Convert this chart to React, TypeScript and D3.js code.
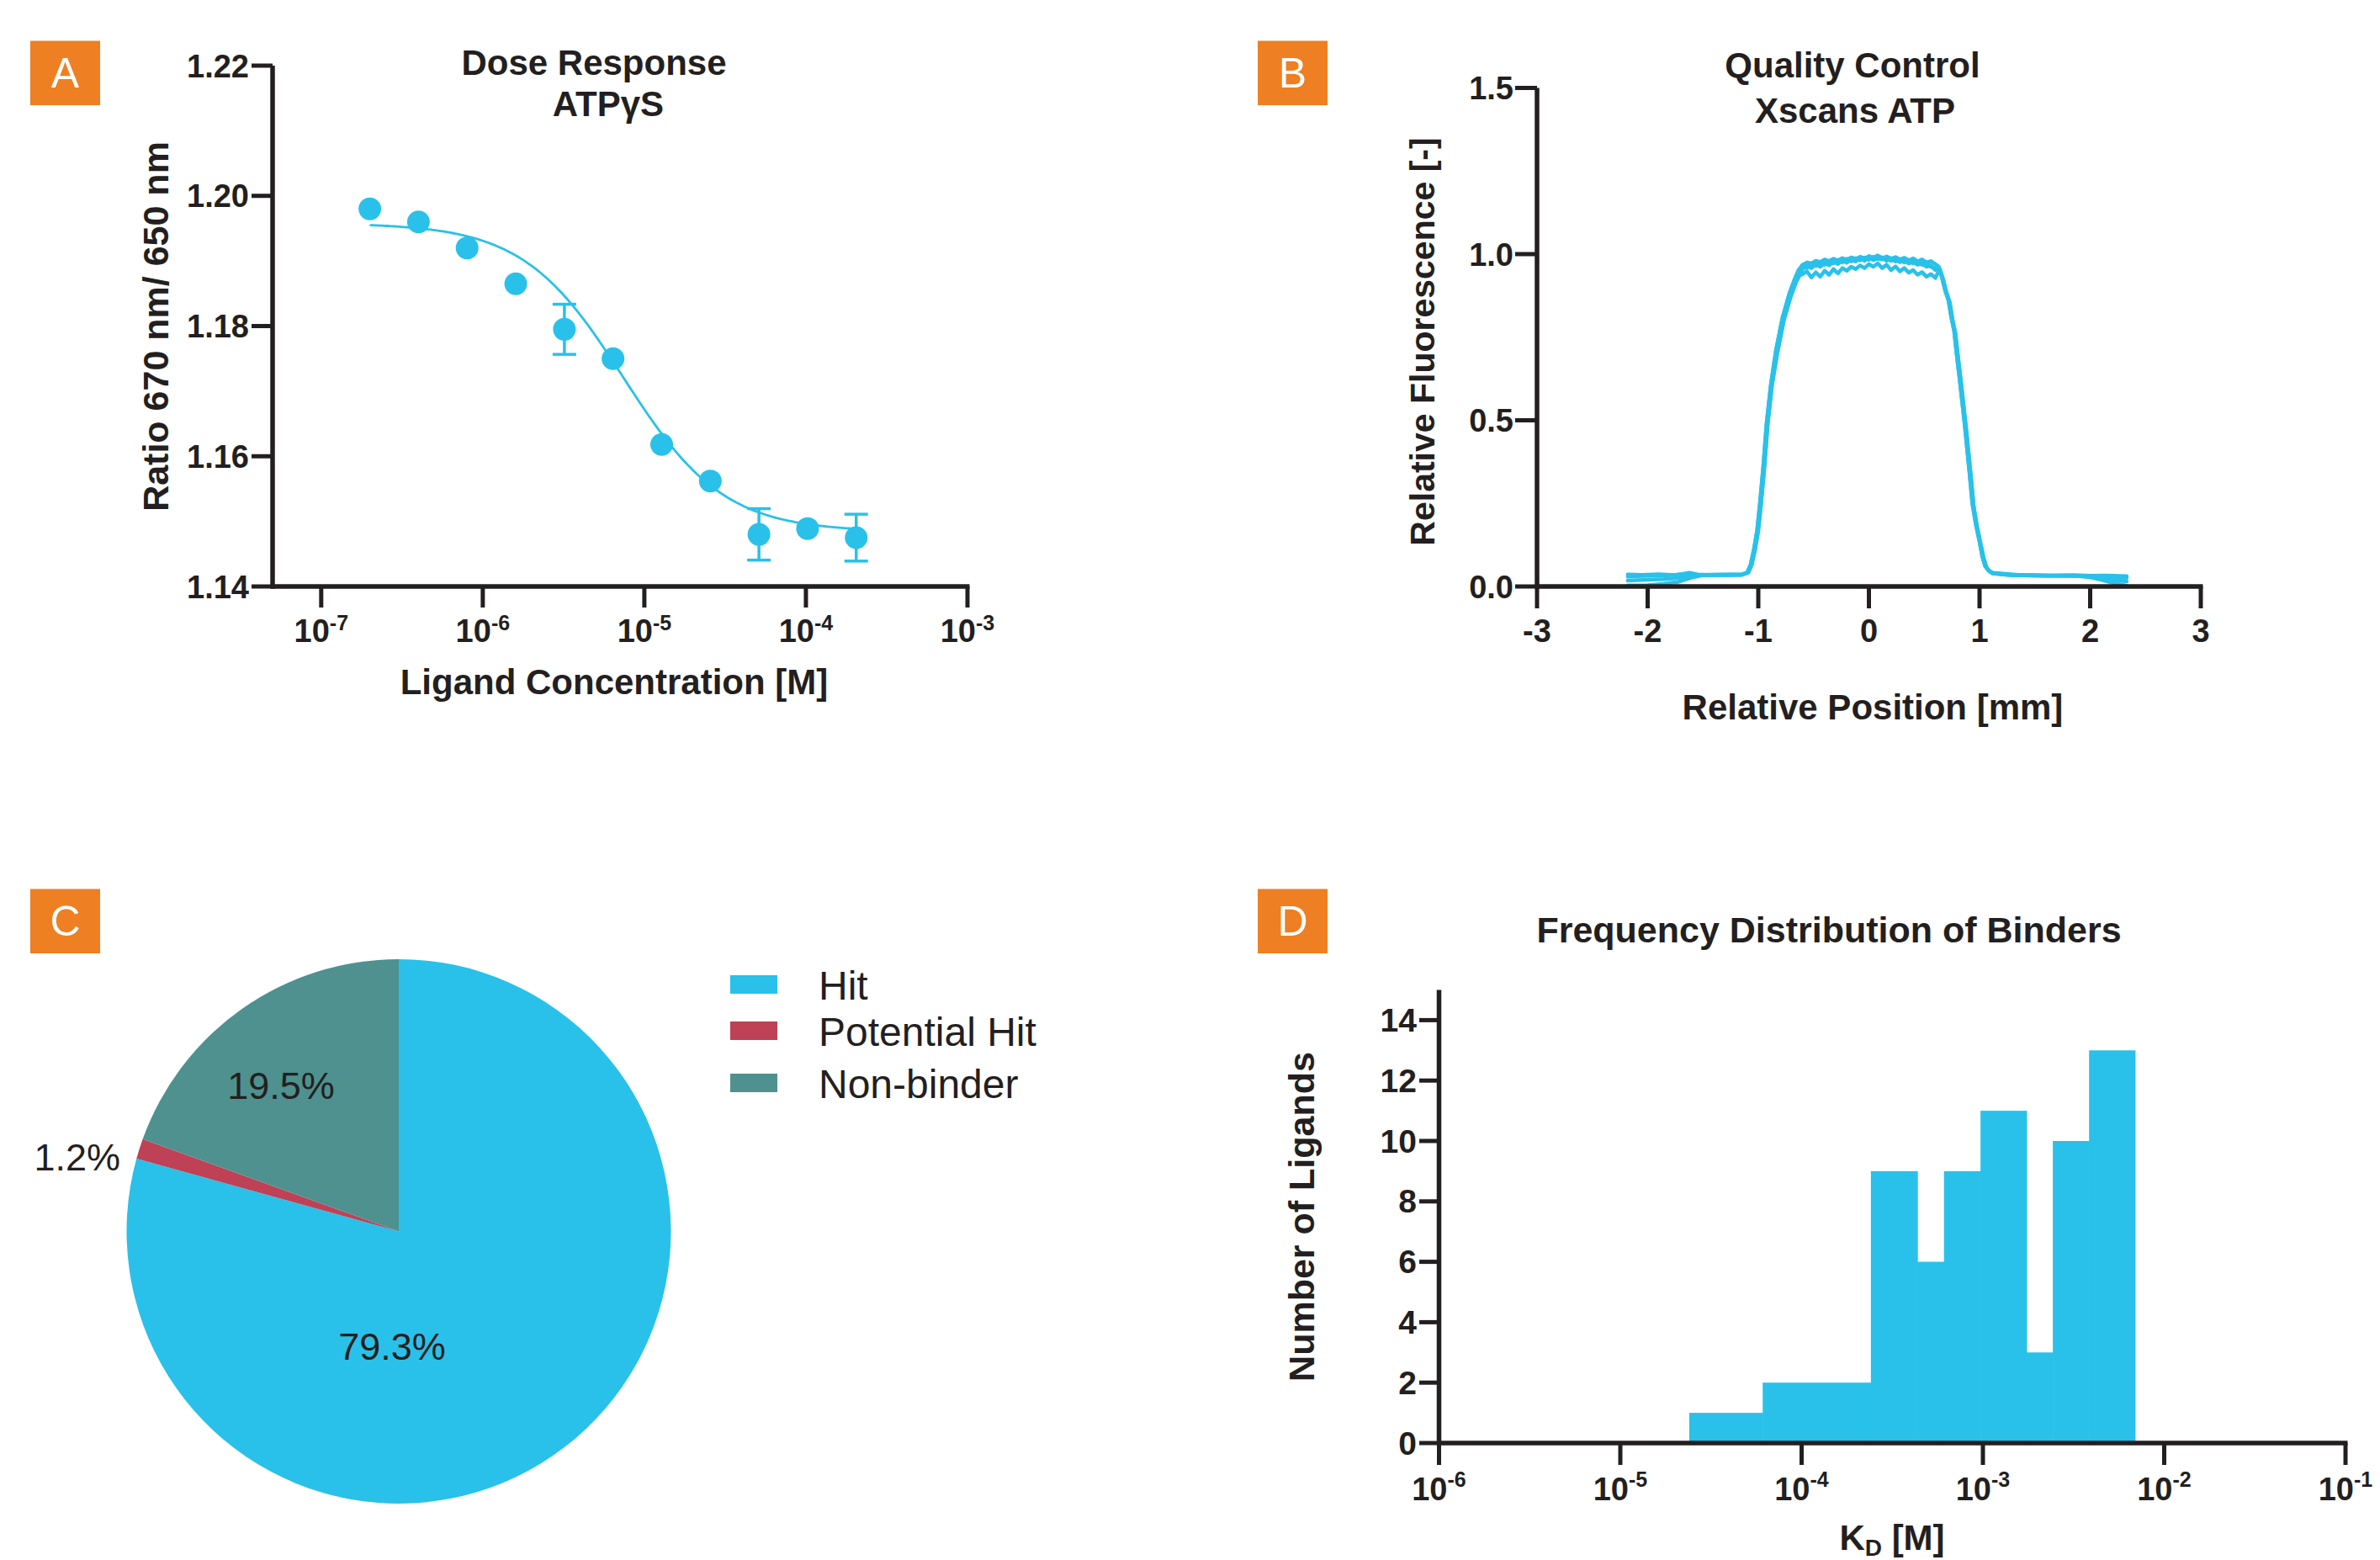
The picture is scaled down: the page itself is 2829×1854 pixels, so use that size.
import React from "react";
import * as d3 from "d3";

const FONT = "'Liberation Sans', Arial, Helvetica, sans-serif";
const CYAN = "#29C1E9";
const INK = "#231F20";
const ORANGE = "#EE7F22";

// ---------- Panel A: dose response ----------
const doseConc = [2e-7, 4e-7, 8e-7, 1.6e-6, 3.2e-6, 6.4e-6, 1.28e-5, 2.56e-5, 5.12e-5, 1.024e-4, 2.048e-4];
const doseRatio = [1.198, 1.196, 1.192, 1.1865, 1.1795, 1.175, 1.1618, 1.1562, 1.148, 1.1489, 1.1475];
const doseSem = [0, 0, 0, 0, 0.00385, 0, 0, 0, 0.00395, 0, 0.0036];
const fitTop = 1.1958;
const fitBottom = 1.1484;
const fitLogEC50 = -5.13;
const fitHill = 1.4;
const doseYTicks = [1.14, 1.16, 1.18, 1.2, 1.22];
const doseXTickExps = [-7, -6, -5, -4, -3];

// ---------- Panel B: quality control x-scans ----------
const qcLeftBase1 = [[-2.18, 0.036], [-2.05, 0.035], [-1.9, 0.037], [-1.75, 0.034], [-1.62, 0.041], [-1.55, 0.036], [-1.4, 0.034], [-1.25, 0.036], [-1.15, 0.036]];
const qcLeftBase2 = [[-2.18, 0.003], [-2.0, 0.004], [-1.85, 0.008], [-1.72, 0.014], [-1.62, 0.025], [-1.52, 0.033], [-1.4, 0.035], [-1.25, 0.034], [-1.15, 0.035]];
const qcLeftBase3 = [[-2.18, 0.018], [-2.0, 0.02], [-1.85, 0.022], [-1.7, 0.026], [-1.58, 0.032], [-1.45, 0.035], [-1.3, 0.035], [-1.15, 0.036]];
const qcLeftBase4 = [[-2.18, 0.03], [-2.0, 0.032], [-1.85, 0.033], [-1.7, 0.036], [-1.55, 0.035], [-1.35, 0.036], [-1.15, 0.035]];
const qcRiseA = [[-1.1, 0.042], [-1.07, 0.065], [-1.04, 0.11], [-1.01, 0.17], [-0.985, 0.25], [-0.955, 0.36], [-0.925, 0.49], [-0.885, 0.61], [-0.84, 0.71], [-0.78, 0.81], [-0.72, 0.88], [-0.67, 0.925], [-0.635, 0.952]];
const qcRiseB = [[-1.09, 0.042], [-1.06, 0.065], [-1.03, 0.11], [-1.0, 0.17], [-0.975, 0.25], [-0.945, 0.36], [-0.915, 0.49], [-0.875, 0.61], [-0.83, 0.7], [-0.77, 0.8], [-0.71, 0.87], [-0.66, 0.915], [-0.63, 0.935]];
const qcPlateau1 = [[-0.6, 0.968], [-0.56, 0.975], [-0.52, 0.972], [-0.48, 0.98], [-0.44, 0.976], [-0.4, 0.984], [-0.36, 0.979], [-0.32, 0.986], [-0.28, 0.981], [-0.24, 0.988], [-0.2, 0.983], [-0.16, 0.99], [-0.12, 0.985], [-0.08, 0.992], [-0.04, 0.987], [0, 0.994], [0.04, 0.989], [0.08, 0.996], [0.12, 0.988], [0.16, 0.993], [0.2, 0.986], [0.24, 0.991], [0.28, 0.984], [0.32, 0.989], [0.36, 0.981], [0.4, 0.987], [0.44, 0.978], [0.48, 0.984], [0.52, 0.975], [0.56, 0.979], [0.6, 0.97]];
const qcPlateau2 = [[-0.6, 0.94], [-0.56, 0.948], [-0.52, 0.93], [-0.48, 0.945], [-0.44, 0.932], [-0.4, 0.95], [-0.36, 0.938], [-0.32, 0.955], [-0.28, 0.942], [-0.24, 0.958], [-0.2, 0.95], [-0.16, 0.962], [-0.12, 0.955], [-0.08, 0.966], [-0.04, 0.958], [0, 0.97], [0.04, 0.962], [0.08, 0.972], [0.12, 0.958], [0.16, 0.968], [0.2, 0.952], [0.24, 0.963], [0.28, 0.948], [0.32, 0.958], [0.36, 0.944], [0.4, 0.952], [0.44, 0.938], [0.48, 0.946], [0.52, 0.932], [0.56, 0.94], [0.6, 0.928]];
const qcPlateau3 = [[-0.6, 0.962], [-0.56, 0.958], [-0.52, 0.97], [-0.48, 0.964], [-0.44, 0.974], [-0.4, 0.968], [-0.36, 0.978], [-0.32, 0.972], [-0.28, 0.982], [-0.24, 0.975], [-0.2, 0.986], [-0.16, 0.978], [-0.12, 0.988], [-0.08, 0.981], [-0.04, 0.99], [0, 0.983], [0.04, 0.992], [0.08, 0.985], [0.12, 0.99], [0.16, 0.98], [0.2, 0.988], [0.24, 0.978], [0.28, 0.985], [0.32, 0.975], [0.36, 0.982], [0.4, 0.972], [0.44, 0.978], [0.48, 0.968], [0.52, 0.973], [0.56, 0.962], [0.6, 0.958]];
const qcPlateau4 = [[-0.6, 0.955], [-0.56, 0.965], [-0.52, 0.958], [-0.48, 0.97], [-0.44, 0.962], [-0.4, 0.974], [-0.36, 0.966], [-0.32, 0.978], [-0.28, 0.97], [-0.24, 0.982], [-0.2, 0.974], [-0.16, 0.985], [-0.12, 0.978], [-0.08, 0.988], [-0.04, 0.98], [0, 0.99], [0.04, 0.982], [0.08, 0.988], [0.12, 0.984], [0.16, 0.986], [0.2, 0.98], [0.24, 0.983], [0.28, 0.976], [0.32, 0.98], [0.36, 0.972], [0.4, 0.977], [0.44, 0.968], [0.48, 0.972], [0.52, 0.962], [0.56, 0.966], [0.6, 0.952]];
const qcFallA = [[0.63, 0.962], [0.66, 0.93], [0.69, 0.89], [0.72, 0.86], [0.745, 0.81], [0.77, 0.77], [0.8, 0.68], [0.82, 0.625], [0.865, 0.49], [0.91, 0.34], [0.935, 0.25], [0.965, 0.19], [1.0, 0.135], [1.025, 0.09], [1.05, 0.062], [1.08, 0.048]];
const qcFallB = [[0.64, 0.955], [0.67, 0.925], [0.7, 0.885], [0.73, 0.855], [0.757, 0.8], [0.782, 0.76], [0.812, 0.67], [0.832, 0.615], [0.877, 0.48], [0.922, 0.33], [0.947, 0.24], [0.977, 0.18], [1.012, 0.125], [1.037, 0.085], [1.062, 0.058], [1.09, 0.046]];
const qcRightBase1 = [[1.12, 0.04], [1.25, 0.035], [1.45, 0.034], [1.65, 0.033], [1.85, 0.034], [2.0, 0.032], [2.15, 0.033], [2.33, 0.031]];
const qcRightBase2 = [[1.12, 0.039], [1.3, 0.034], [1.5, 0.033], [1.7, 0.032], [1.9, 0.031], [2.0, 0.028], [2.1, 0.02], [2.2, 0.011], [2.33, 0.002]];
const qcRightBase3 = [[1.12, 0.04], [1.3, 0.034], [1.55, 0.032], [1.8, 0.033], [2.0, 0.03], [2.15, 0.022], [2.33, 0.015]];
const qcRightBase4 = [[1.12, 0.041], [1.35, 0.035], [1.6, 0.033], [1.85, 0.032], [2.05, 0.031], [2.2, 0.03], [2.33, 0.026]];
const qcXTicks = [-3, -2, -1, 0, 1, 2, 3];
const qcYTicks = [0, 0.5, 1.0, 1.5];

// ---------- Panel C: pie ----------
const pieCategories = ["Hit", "Potential Hit", "Non-binder"];
const piePercent = [79.3, 1.2, 19.5];
const pieColors = ["#29C1E9", "#BF4155", "#4E918F"];

// ---------- Panel D: histogram ----------
const kdBinEdges = [2.4e-5, 6.1e-5, 2.41e-4, 4.35e-4, 6.1e-4, 9.7e-4, 1.74e-3, 2.43e-3, 3.85e-3, 6.9e-3];
const kdCounts = [1, 2, 9, 6, 9, 11, 3, 10, 13];
const kdXTickExps = [-6, -5, -4, -3, -2, -1];
const kdYTicks = [0, 2, 4, 6, 8, 10, 12, 14];

const AXW = 5.5;
const TKW = 5;

function LogLabel({ x, y, exp, size, supSize, supDy }: any) {
  return (
    <text x={x} y={y} textAnchor="middle" fontFamily={FONT} fontWeight="bold" fontSize={size} fill={INK}>
      <tspan>10</tspan>
      <tspan dy={supDy} fontSize={supSize}>{`-${Math.abs(exp)}`}</tspan>
    </text>
  );
}

function Badge({ x, y, letter, baseline }: any) {
  return (
    <g>
      <rect x={x} y={y} width={83} height={76.5} fill={ORANGE} />
      <text x={x + 41.5} y={baseline} textAnchor="middle" fontFamily={FONT} fontSize={50} fill="#fff">{letter}</text>
    </g>
  );
}

function PanelA() {
  const x = d3.scaleLog().domain([5e-8, 1e-3]).range([324, 1150]);
  const y = d3.scaleLinear().domain([1.14, 1.22]).range([697, 78]);
  const lo = Math.log10(doseConc[0]);
  const hi = Math.log10(doseConc[doseConc.length - 1]);
  const fitPts = d3.range(0, 201).map((i) => {
    const lx = lo + ((hi - lo) * i) / 200;
    const v = fitBottom + (fitTop - fitBottom) / (1 + Math.pow(10, (lx - fitLogEC50) * fitHill));
    return [Math.pow(10, lx), v] as [number, number];
  });
  const line = d3.line<[number, number]>().x((d) => x(d[0])).y((d) => y(d[1]));
  return (
    <g>
      <Badge x={36} y={48.5} letter="A" baseline={104} />
      <text x={706} y={89} textAnchor="middle" fontFamily={FONT} fontWeight="bold" fontSize={42} fill={INK}>Dose Response</text>
      <text x={723} y={138} textAnchor="middle" fontFamily={FONT} fontWeight="bold" fontSize={42} fill={INK}>ATPγS</text>
      <text transform="translate(200,388) rotate(-90)" textAnchor="middle" fontFamily={FONT} fontWeight="bold" fontSize={43} fill={INK}>Ratio 670 nm/ 650 nm</text>
      <text x={730} y={825} textAnchor="middle" fontFamily={FONT} fontWeight="bold" fontSize={42} fill={INK}>Ligand Concentration [M]</text>
      <path d={line(fitPts) || ""} fill="none" stroke={CYAN} strokeWidth={2.8} />
      {doseConc.map((c, i) =>
        doseSem[i] > 0 ? (
          <g key={"e" + i} stroke={CYAN} strokeWidth={3.5}>
            <line x1={x(c)} x2={x(c)} y1={y(doseRatio[i] + doseSem[i])} y2={y(doseRatio[i] - doseSem[i])} />
            <line x1={x(c) - 14} x2={x(c) + 14} y1={y(doseRatio[i] + doseSem[i])} y2={y(doseRatio[i] + doseSem[i])} />
            <line x1={x(c) - 14} x2={x(c) + 14} y1={y(doseRatio[i] - doseSem[i])} y2={y(doseRatio[i] - doseSem[i])} />
          </g>
        ) : null
      )}
      {doseConc.map((c, i) => (
        <circle key={"d" + i} cx={x(c)} cy={y(doseRatio[i])} r={13.5} fill={CYAN} />
      ))}
      <line x1={324} x2={324} y1={y(1.22)} y2={y(1.14) + AXW / 2} stroke={INK} strokeWidth={AXW} />
      <line x1={324} x2={1150 + TKW / 2} y1={697} y2={697} stroke={INK} strokeWidth={AXW} />
      {doseYTicks.map((t) => (
        <g key={"yt" + t}>
          <line x1={299} x2={324} y1={y(t)} y2={y(t)} stroke={INK} strokeWidth={TKW} />
          <text x={296} y={y(t) + 13.5} textAnchor="end" fontFamily={FONT} fontWeight="bold" fontSize={38} fill={INK}>{t.toFixed(2)}</text>
        </g>
      ))}
      {doseXTickExps.map((e) => (
        <g key={"xt" + e}>
          <line x1={x(Math.pow(10, e))} x2={x(Math.pow(10, e))} y1={697} y2={722} stroke={INK} strokeWidth={TKW} />
          <LogLabel x={x(Math.pow(10, e))} y={763} exp={e} size={38} supSize={25} supDy={-14} />
        </g>
      ))}
    </g>
  );
}

function PanelB() {
  const x = d3.scaleLinear().domain([-3, 3]).range([1827, 2616]);
  const y = d3.scaleLinear().domain([0, 1.5]).range([697, 104.5]);
  const traces = [
    [...qcLeftBase1, ...qcRiseA, ...qcPlateau1, ...qcFallA, ...qcRightBase1],
    [...qcLeftBase2, ...qcRiseB, ...qcPlateau2, ...qcFallB, ...qcRightBase2],
    [...qcLeftBase3, ...qcRiseA, ...qcPlateau3, ...qcFallB, ...qcRightBase3],
    [...qcLeftBase4, ...qcRiseB, ...qcPlateau4, ...qcFallA, ...qcRightBase4],
  ];
  const line = d3.line<number[]>().x((d) => x(d[0])).y((d) => y(d[1]));
  return (
    <g>
      <Badge x={1495} y={48.5} letter="B" baseline={104} />
      <text x={2202} y={92} textAnchor="middle" fontFamily={FONT} fontWeight="bold" fontSize={42} fill={INK}>Quality Control</text>
      <text x={2205} y={146} textAnchor="middle" fontFamily={FONT} fontWeight="bold" fontSize={42} fill={INK}>Xscans ATP</text>
      <text transform="translate(1705,406) rotate(-90)" textAnchor="middle" fontFamily={FONT} fontWeight="bold" fontSize={41} fill={INK}>Relative Fluorescence [-]</text>
      <text x={2226} y={855} textAnchor="middle" fontFamily={FONT} fontWeight="bold" fontSize={42} fill={INK}>Relative Position [mm]</text>
      {traces.map((t, i) => (
        <path key={"tr" + i} d={line(t) || ""} fill="none" stroke={CYAN} strokeWidth={4.5} strokeLinejoin="round" strokeLinecap="round" />
      ))}
      <line x1={1827} x2={1827} y1={y(1.5)} y2={697 + AXW / 2} stroke={INK} strokeWidth={AXW} />
      <line x1={1827} x2={2616 + TKW / 2} y1={697} y2={697} stroke={INK} strokeWidth={AXW} />
      {qcYTicks.map((t) => (
        <g key={"yt" + t}>
          <line x1={1801} x2={1827} y1={y(t)} y2={y(t)} stroke={INK} strokeWidth={TKW} />
          <text x={1799} y={y(t) + 13.5} textAnchor="end" fontFamily={FONT} fontWeight="bold" fontSize={38} fill={INK}>{t.toFixed(1)}</text>
        </g>
      ))}
      {qcXTicks.map((t) => (
        <g key={"xt" + t}>
          <line x1={x(t)} x2={x(t)} y1={697} y2={723} stroke={INK} strokeWidth={TKW} />
          <text x={x(t)} y={763} textAnchor="middle" fontFamily={FONT} fontWeight="bold" fontSize={38} fill={INK}>{String(t)}</text>
        </g>
      ))}
    </g>
  );
}

function PanelC() {
  const cx = 474;
  const cy = 1463.4;
  const r = 323.5;
  const pie = d3.pie<number>().sort(null).value((d) => d);
  const arcs = pie(piePercent);
  const arc = d3.arc<d3.PieArcDatum<number>>().innerRadius(0).outerRadius(r);
  const labelPos = [
    { x: 466, y: 1616, anchor: "middle" },
    { x: 143, y: 1391, anchor: "end" },
    { x: 334, y: 1306, anchor: "middle" },
  ];
  const legendY = [1170, 1225, 1287];
  return (
    <g>
      <Badge x={36} y={1056.5} letter="C" baseline={1112} />
      <g transform={`translate(${cx},${cy})`}>
        {arcs.map((a, i) => (
          <path key={"s" + i} d={arc(a) || ""} fill={pieColors[i]} />
        ))}
      </g>
      {piePercent.map((p, i) => (
        <text key={"pl" + i} x={labelPos[i].x} y={labelPos[i].y} textAnchor={labelPos[i].anchor as any} fontFamily={FONT} fontSize={45} fill={INK}>{`${p.toFixed(1)}%`}</text>
      ))}
      {pieCategories.map((c, i) => (
        <g key={"lg" + i}>
          <rect x={868} y={legendY[i] - 11} width={56} height={22} fill={pieColors[i]} />
          <text x={973} y={legendY[i] + 17.5} fontFamily={FONT} fontSize={48} fill={INK}>{c}</text>
        </g>
      ))}
    </g>
  );
}

function PanelD() {
  const x = d3.scaleLog().domain([1e-6, 1e-1]).range([1710.5, 2788]);
  const y = d3.scaleLinear().domain([0, 15]).range([1715, 1176.5]);
  return (
    <g>
      <Badge x={1495} y={1056.5} letter="D" baseline={1112} />
      <text x={2174} y={1120} textAnchor="middle" fontFamily={FONT} fontWeight="bold" fontSize={43} fill={INK}>Frequency Distribution of Binders</text>
      <text transform="translate(1562,1446) rotate(-90)" textAnchor="middle" fontFamily={FONT} fontWeight="bold" fontSize={43} fill={INK}>Number of Ligands</text>
      <text x={2249} y={1842} textAnchor="middle" fontFamily={FONT} fontWeight="bold" fontSize={42} fill={INK}>
        <tspan>K</tspan>
        <tspan dy={7} fontSize={28}>D</tspan>
        <tspan dy={-7}> [M]</tspan>
      </text>
      {kdCounts.map((c, i) => (
        <rect key={"b" + i} x={x(kdBinEdges[i])} y={y(c)} width={x(kdBinEdges[i + 1]) - x(kdBinEdges[i]) + 0.6} height={y(0) - y(c)} fill={CYAN} />
      ))}
      <line x1={1710.5} x2={1710.5} y1={y(15)} y2={1715 + AXW / 2} stroke={INK} strokeWidth={AXW} />
      <line x1={1710.5} x2={2788 + TKW / 2} y1={1715} y2={1715} stroke={INK} strokeWidth={AXW} />
      {kdYTicks.map((t) => (
        <g key={"yt" + t}>
          <line x1={1687} x2={1710.5} y1={y(t)} y2={y(t)} stroke={INK} strokeWidth={TKW} />
          <text x={1684} y={y(t) + 13.5} textAnchor="end" fontFamily={FONT} fontWeight="bold" fontSize={39} fill={INK}>{String(t)}</text>
        </g>
      ))}
      {kdXTickExps.map((e) => (
        <g key={"xt" + e}>
          <line x1={x(Math.pow(10, e))} x2={x(Math.pow(10, e))} y1={1715} y2={1741} stroke={INK} strokeWidth={TKW} />
          <LogLabel x={x(Math.pow(10, e))} y={1783} exp={e} size={38} supSize={25} supDy={-16} />
        </g>
      ))}
    </g>
  );
}

export default function App() {
  return (
    <svg
      width={2829}
      height={1854}
      viewBox="0 0 2829 1854"
      style={{ position: "absolute", left: 0, top: 0, display: "block", background: "#fff" }}
    >
      <rect x={0} y={0} width={2829} height={1854} fill="#fff" />
      <PanelA />
      <PanelB />
      <PanelC />
      <PanelD />
    </svg>
  );
}
